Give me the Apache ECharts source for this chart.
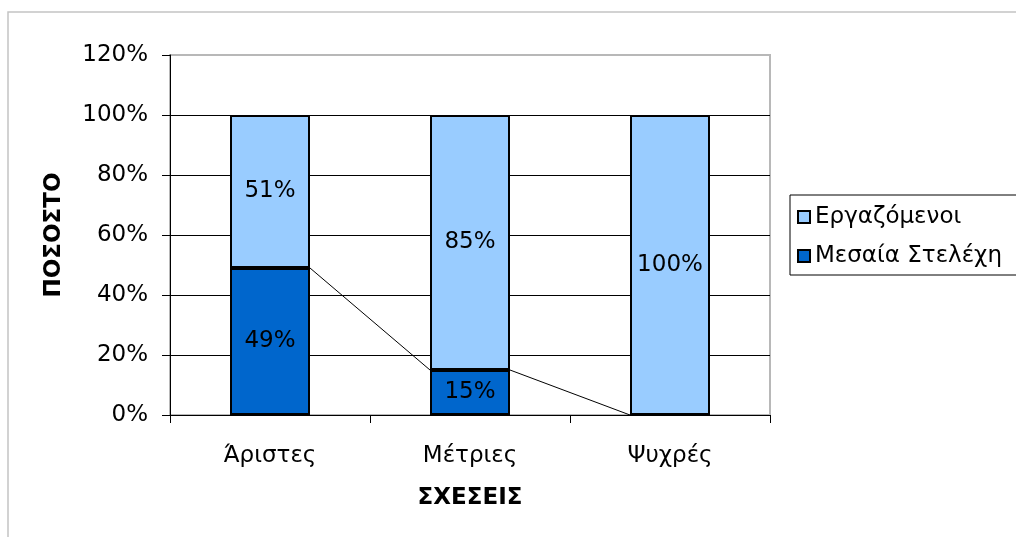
<!DOCTYPE html>
<html>
<head>
<meta charset="utf-8">
<title>ΣΧΕΣΕΙΣ</title>
<script src="https://cdn.jsdelivr.net/npm/echarts@6/dist/echarts.min.js"></script>
<style>
  html, body { margin: 0; padding: 0; background: #ffffff; }
  #chart { width: 1016px; height: 537px; }
</style>
</head>
<body>
<div id="chart"></div>
<script>
// Categories and stacked percentages
const categories = ['Άριστες', 'Μέτριες', 'Ψυχρές'];
const middleManagers = [49, 15, 0];   // Μεσαία Στελέχη
const employees = [51, 85, 100];      // Εργαζόμενοι
const yTicks = [0, 20, 40, 60, 80, 100, 120];

const FONT = 'DejaVu Sans';
const BAR_RATIO = 0.4;

const chart = echarts.init(document.getElementById('chart'), null, { renderer: 'canvas' });

// series lines joining the tops of the lower segments of neighbouring columns
const seriesLineData = middleManagers.slice(0, -1).map((v, i) => [i, v, middleManagers[i + 1]]);

const pctLabel = {
  show: true,
  position: 'inside',
  color: '#000',
  fontFamily: FONT,
  fontSize: 23,
  formatter: p => (p.value > 0 ? p.value + '%' : '')
};

chart.setOption({
  backgroundColor: '#ffffff',
  animation: false,
  graphic: [{
    type: 'rect',
    shape: { x: 8, y: 12, width: 1200, height: 700 },
    style: { fill: 'none', stroke: '#c4c4c4', lineWidth: 1.5 },
    silent: true,
    z: -10
  }],
  grid: {
    left: 170, top: 55, width: 600, height: 360,
    show: true, borderColor: '#b8b8b8', borderWidth: 2, backgroundColor: 'transparent'
  },
  legend: {
    orient: 'vertical',
    left: 790, top: 195,
    padding: [9, 30, 6, 7],
    itemGap: 13,
    itemWidth: 12, itemHeight: 12,
    borderColor: '#000', borderWidth: 1,
    icon: 'rect',
    data: ['Εργαζόμενοι', 'Μεσαία Στελέχη'],
    textStyle: { fontFamily: FONT, fontSize: 23, color: '#000', lineHeight: 26 }
  },
  xAxis: {
    type: 'category',
    data: categories,
    name: 'ΣΧΕΣΕΙΣ',
    nameLocation: 'middle',
    nameGap: 72,
    nameTextStyle: { fontFamily: FONT, fontSize: 23, fontWeight: 'bold', color: '#000' },
    axisLine: { lineStyle: { color: '#000', width: 1 } },
    axisTick: { show: true, length: 8, lineStyle: { color: '#000' } },
    axisLabel: { fontFamily: FONT, fontSize: 23, color: '#000', margin: 30 }
  },
  yAxis: {
    type: 'value',
    min: yTicks[0],
    max: yTicks[yTicks.length - 1],
    interval: yTicks[1] - yTicks[0],
    name: 'ΠΟΣΟΣΤΟ',
    nameLocation: 'middle',
    nameGap: 104,
    nameRotate: 90,
    nameTextStyle: { fontFamily: FONT, fontSize: 23, fontWeight: 'bold', color: '#000' },
    axisLine: { show: true, lineStyle: { color: '#000', width: 1 } },
    axisTick: { show: true, length: 8, lineStyle: { color: '#000' } },
    axisLabel: { fontFamily: FONT, fontSize: 23, color: '#000', margin: 22, formatter: '{value}%' },
    splitLine: { show: true, showMaxLine: false, lineStyle: { color: '#000', width: 1 } }
  },
  series: [
    {
      name: 'Μεσαία Στελέχη',
      type: 'bar',
      stack: 'total',
      barWidth: (BAR_RATIO * 100) + '%',
      data: middleManagers,
      itemStyle: { color: '#0066CC', borderColor: '#000', borderWidth: 2 },
      label: pctLabel,
      z: 3
    },
    {
      name: 'Εργαζόμενοι',
      type: 'bar',
      stack: 'total',
      barWidth: (BAR_RATIO * 100) + '%',
      data: employees,
      itemStyle: { color: '#99CCFF', borderColor: '#000', borderWidth: 2 },
      label: pctLabel,
      z: 2
    },
    {
      name: 'series-lines',
      type: 'custom',
      data: seriesLineData,
      encode: { x: 0, y: 1 },
      silent: true,
      z: 5,
      renderItem: (params, api) => {
        const i = api.value(0);
        const half = api.size([1, 0])[0] * BAR_RATIO / 2;
        const a = api.coord([i, api.value(1)]);
        const b = api.coord([i + 1, api.value(2)]);
        return {
          type: 'line',
          shape: { x1: a[0] + half, y1: a[1], x2: b[0] - half, y2: b[1] },
          style: { stroke: '#000', lineWidth: 1 }
        };
      }
    }
  ]
});
</script>
</body>
</html>
